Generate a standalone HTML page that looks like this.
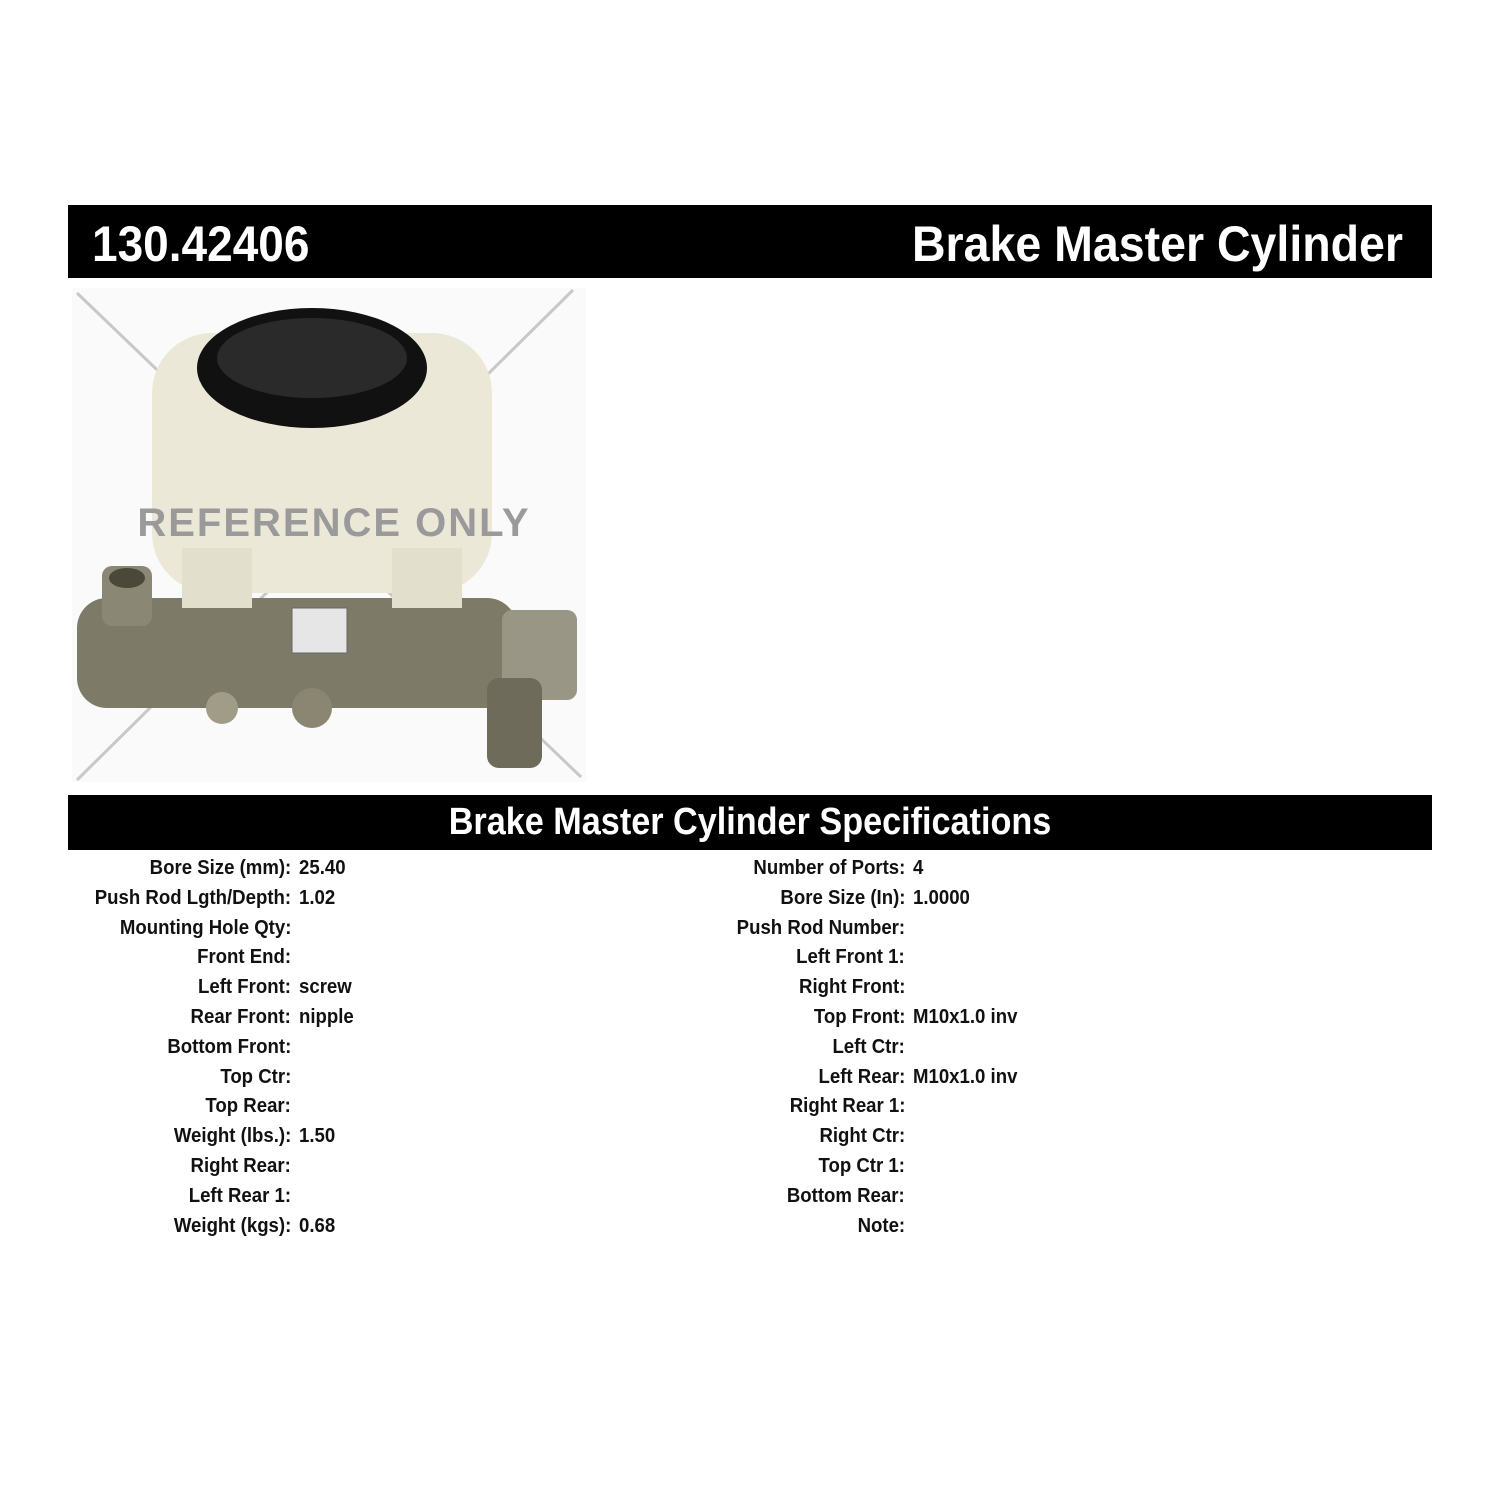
<!DOCTYPE html>
<html><head><meta charset="utf-8"><style>
body{margin:0;width:1500px;height:1500px;background:#fff;position:relative;font-family:"Liberation Sans",sans-serif;overflow:hidden}
.bar{position:absolute;left:68px;width:1364px;background:#000;color:#fff;font-weight:bold}
.t{position:absolute;white-space:nowrap}
.row{position:absolute;font-weight:bold;font-size:20px;color:#111;white-space:nowrap;transform:scaleX(0.93)}
.l{text-align:right;transform-origin:right center}
.v{transform-origin:left center}
</style></head><body>
<div class="bar" style="top:205px;height:73px">
 <div class="t" style="left:24px;top:10px;font-size:50px;transform:scaleX(0.92);transform-origin:left">130.42406</div>
 <div class="t" style="right:29px;top:10px;font-size:50px;transform:scaleX(0.93);transform-origin:right">Brake Master Cylinder</div>
</div>
<svg style="position:absolute;left:72px;top:288px" width="514" height="494" viewBox="0 0 514 494">
 <rect width="514" height="494" fill="#fafafa"/>
 <line x1="5" y1="5" x2="509" y2="489" stroke="#c8c8c8" stroke-width="3"/>
 <line x1="501" y1="2" x2="5" y2="492" stroke="#c8c8c8" stroke-width="3"/>
 <rect x="5" y="310" width="440" height="110" rx="30" fill="#7d7a68"/>
 <rect x="30" y="278" width="50" height="60" rx="10" fill="#8a8775"/>
 <ellipse cx="55" cy="290" rx="18" ry="10" fill="#4a4838"/>
 <rect x="430" y="322" width="75" height="90" rx="10" fill="#9a9686"/>
 <rect x="415" y="390" width="55" height="90" rx="12" fill="#6e6b5a"/>
 <circle cx="150" cy="420" r="16" fill="#a09c88"/>
 <circle cx="240" cy="420" r="20" fill="#8a8672"/>
 <rect x="80" y="45" width="340" height="260" rx="60" fill="#ece8d8"/>
 <rect x="110" y="260" width="70" height="60" fill="#e3dfcd"/>
 <rect x="320" y="260" width="70" height="60" fill="#e3dfcd"/>
 <rect x="220" y="320" width="55" height="45" fill="#e6e6e6" stroke="#666"/>
 <ellipse cx="240" cy="80" rx="115" ry="60" fill="#111"/>
 <ellipse cx="240" cy="70" rx="95" ry="40" fill="#2a2a2a"/>
 <text x="262" y="248" text-anchor="middle" font-family="Liberation Sans,sans-serif" font-weight="bold" font-size="40" fill="#9a9a9a" letter-spacing="2">REFERENCE ONLY</text>
</svg>
<div class="bar" style="top:795px;height:55px">
 <div class="t" style="left:0;width:1364px;text-align:center;top:6px;font-size:38px;transform:scaleX(0.9)">Brake Master Cylinder Specifications</div>
</div>
<div id="specs"></div>
<script>
var L=[["Bore Size (mm):","25.40"],["Push Rod Lgth/Depth:","1.02"],["Mounting Hole Qty:",""],["Front End:",""],["Left Front:","screw"],["Rear Front:","nipple"],["Bottom Front:",""],["Top Ctr:",""],["Top Rear:",""],["Weight (lbs.):","1.50"],["Right Rear:",""],["Left Rear 1:",""],["Weight (kgs):","0.68"]];
var R=[["Number of Ports:","4"],["Bore Size (In):","1.0000"],["Push Rod Number:",""],["Left Front 1:",""],["Right Front:",""],["Top Front:","M10x1.0 inv"],["Left Ctr:",""],["Left Rear:","M10x1.0 inv"],["Right Rear 1:",""],["Right Ctr:",""],["Top Ctr 1:",""],["Bottom Rear:",""],["Note:",""]];
var h="";
function add(a,lx,vx){a.forEach(function(r,i){var y=857+i*29.8;
h+='<div class="row l" style="right:'+(1500-lx)+'px;top:'+y+'px">'+r[0]+'</div>';
h+='<div class="row v" style="left:'+vx+'px;top:'+y+'px">'+r[1]+'</div>';});}
add(L,291,299);add(R,905,913);
document.getElementById("specs").innerHTML=h;
</script>
</body></html>
